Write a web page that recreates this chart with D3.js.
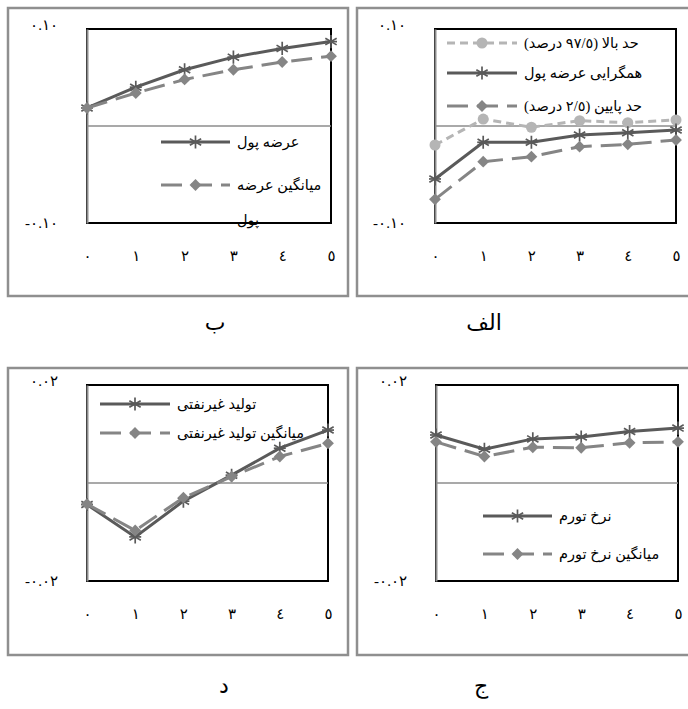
<!DOCTYPE html>
<html>
<head>
<meta charset="utf-8">
<script src="https://cdn.jsdelivr.net/npm/d3@7"></script>
<style>
  body { margin: 0; background: #fff; }
  text { font-family: "Liberation Serif", "DejaVu Sans", serif; }
</style>
</head>
<body>
<svg id="chart" width="688" height="709"></svg>
<script>
// lags (x axis) and their Arabic-Indic labels
var lags = [0, 1, 2, 3, 4, 5];
var lagLabels = ['٠', '١', '٢', '٣', '٤', '٥'];

// panel الف: convergence of money supply with 95% band
var upperBand = [-0.0196, 0.0072, -0.0013, 0.0055, 0.0034, 0.0062];
var moneyConv = [-0.0546, -0.0168, -0.0168, -0.0093, -0.0069, -0.0041];
var lowerBand = [-0.0756, -0.0368, -0.0316, -0.0213, -0.0189, -0.0144];

// panel ب: money supply and its mean
var moneySupply = [0.0186, 0.040, 0.058, 0.071, 0.080, 0.087];
var moneyMean = [0.0186, 0.034, 0.048, 0.058, 0.066, 0.072];

// panel ج: inflation and its mean
var inflation = [0.0098, 0.0069, 0.0090, 0.0094, 0.0105, 0.0112];
var inflationMean = [0.0084, 0.0054, 0.0073, 0.0072, 0.0082, 0.0084];

// panel د: non-oil output and its mean
var nonOil = [-0.0044, -0.0110, -0.0037, 0.0016, 0.0071, 0.0108];
var nonOilMean = [-0.0043, -0.0097, -0.0030, 0.0013, 0.0054, 0.0081];

var wideTicks = [-0.10, 0.10], wideTickLabels = ['-٠.١٠', '٠.١٠'];
var narrowTicks = [-0.02, 0.02], narrowTickLabels = ['-٠.٠٢', '٠.٠٢'];

var svg = d3.select('#chart');

var STYLE = {
    dark: { color: '#5a5a5a', dash: null, marker: 'star' },
    mean: { color: '#858585', dash: '21,9', marker: 'diamond' },
    light: { color: '#b5b5b5', dash: '8,5', marker: 'circle' }
};

function drawMarker(g, kind, color) {
    if (kind === 'star') {
        g.append('path')
            .attr('d', d3.symbol().type(d3.symbolAsterisk).size(120)())
            .attr('fill', 'none').attr('stroke', color).attr('stroke-width', 1.7);
        g.append('line').attr('x1', -6).attr('x2', 6)
            .attr('stroke', color).attr('stroke-width', 1.7);
    } else if (kind === 'diamond') {
        g.append('path')
            .attr('d', d3.symbol().type(d3.symbolSquare).size(70)())
            .attr('transform', 'rotate(45)')
            .attr('fill', color);
    } else {
        g.append('circle').attr('r', 5.5).attr('fill', color);
    }
}

function drawPanel(cfg) {
    var p = cfg.plot;
    svg.append('rect')
        .attr('x', cfg.frame[0]).attr('y', cfg.frame[1])
        .attr('width', cfg.frame[2]).attr('height', cfg.frame[3])
        .attr('fill', 'none').attr('stroke', '#8f8f8f').attr('stroke-width', 2.5);

    var x = d3.scaleLinear().domain([0, 5]).range([p.l, p.r]);
    var y = d3.scaleLinear().domain(cfg.domain).range([p.b, p.t]);

    svg.append('rect')
        .attr('x', p.l).attr('y', p.t)
        .attr('width', p.r - p.l).attr('height', p.b - p.t)
        .attr('fill', 'none').attr('stroke', '#000').attr('stroke-width', 2);

    // zero line
    svg.append('line')
        .attr('x1', p.l).attr('x2', p.r)
        .attr('y1', y(0)).attr('y2', y(0))
        .attr('stroke', '#8c8c8c').attr('stroke-width', 1.5);

    var yAxis = svg.append('g')
        .attr('transform', 'translate(' + p.l + ',0)')
        .call(d3.axisLeft(y).tickValues(cfg.ticks).tickSize(0).tickPadding(29)
            .tickFormat(function (d, i) { return cfg.tickLabels[i]; }));
    yAxis.select('.domain').attr('stroke', '#8c8c8c').attr('stroke-width', 2);
    yAxis.selectAll('text').attr('font-size', 15).attr('fill', '#000')
        .attr('dy', function (d) { return d > 0 ? '0em' : '0.3em'; });

    var xAxis = svg.append('g')
        .attr('transform', 'translate(0,' + p.b + ')')
        .call(d3.axisBottom(x).tickValues(lags).tickSize(0).tickPadding(27)
            .tickFormat(function (d) { return lagLabels[d]; }));
    xAxis.select('.domain').remove();
    xAxis.selectAll('text').attr('font-size', 15).attr('fill', '#000');

    var line = d3.line().x(function (d, i) { return x(lags[i]); }).y(function (d) { return y(d); });

    cfg.series.forEach(function (s) {
        var st = STYLE[s.style];
        svg.append('path')
            .datum(s.values)
            .attr('d', line)
            .attr('fill', 'none')
            .attr('stroke', st.color)
            .attr('stroke-width', 3)
            .attr('stroke-dasharray', st.dash);
        s.values.forEach(function (v, i) {
            var g = svg.append('g').attr('transform', 'translate(' + x(lags[i]) + ',' + y(v) + ')');
            drawMarker(g, st.marker, st.color);
        });
    });

    // legend
    var lg = cfg.legend;
    cfg.series.forEach(function (s, i) {
        var st = STYLE[s.style], ly = lg.y[i];
        svg.append('line')
            .attr('x1', lg.x0).attr('x2', lg.x1).attr('y1', ly).attr('y2', ly)
            .attr('stroke', st.color).attr('stroke-width', 3)
            .attr('stroke-dasharray', st.dash);
        drawMarker(svg.append('g').attr('transform', 'translate(' + ((lg.x0 + lg.x1) / 2) + ',' + ly + ')'),
            st.marker, st.color);
        var t = svg.append('text')
            .attr('x', lg.x1 + 7).attr('y', ly)
            .attr('font-size', 14.5).attr('fill', '#000');
        s.name.forEach(function (part, k) {
            t.append('tspan').attr('x', lg.x1 + 7).attr('dy', k === 0 ? '0.35em' : '2.4em').text(part);
        });
    });

    svg.append('text')
        .attr('x', cfg.caption[0]).attr('y', cfg.caption[1])
        .attr('text-anchor', 'middle').attr('font-size', 22).attr('fill', '#000')
        .text(cfg.caption[2]);
}

drawPanel({
    frame: [357, 8, 340, 288],
    plot: { l: 435, t: 29, r: 676, b: 223 },
    domain: [-0.1, 0.1], ticks: wideTicks, tickLabels: wideTickLabels,
    series: [
        { name: ['حد بالا (٩٧/٥ درصد)'], values: upperBand, style: 'light' },
        { name: ['همگرایی عرضه پول'], values: moneyConv, style: 'dark' },
        { name: ['حد پایین (٢/٥ درصد)'], values: lowerBand, style: 'mean' }
    ],
    legend: { x0: 447, x1: 517, y: [43, 73, 106] },
    caption: [484, 330, 'الف']
});

drawPanel({
    frame: [8, 8, 340, 288],
    plot: { l: 87, t: 29, r: 331, b: 223 },
    domain: [-0.1, 0.1], ticks: wideTicks, tickLabels: wideTickLabels,
    series: [
        { name: ['عرضه پول'], values: moneySupply, style: 'dark' },
        { name: ['میانگین عرضه', 'پول'], values: moneyMean, style: 'mean' }
    ],
    legend: { x0: 161, x1: 230, y: [142, 185] },
    caption: [215, 330, 'ب']
});

drawPanel({
    frame: [357, 368, 340, 287],
    plot: { l: 436, t: 385, r: 678, b: 581 },
    domain: [-0.02, 0.02], ticks: narrowTicks, tickLabels: narrowTickLabels,
    series: [
        { name: ['نرخ تورم'], values: inflation, style: 'dark' },
        { name: ['میانگین نرخ تورم'], values: inflationMean, style: 'mean' }
    ],
    legend: { x0: 483, x1: 552, y: [516, 554] },
    caption: [481, 693, 'ج']
});

drawPanel({
    frame: [8, 368, 340, 287],
    plot: { l: 87, t: 385, r: 328, b: 581 },
    domain: [-0.02, 0.02], ticks: narrowTicks, tickLabels: narrowTickLabels,
    series: [
        { name: ['تولید غیرنفتی'], values: nonOil, style: 'dark' },
        { name: ['میانگین تولید غیرنفتی'], values: nonOilMean, style: 'mean' }
    ],
    legend: { x0: 100, x1: 170, y: [404, 433] },
    caption: [224, 693, 'د']
});
</script>
</body>
</html>
